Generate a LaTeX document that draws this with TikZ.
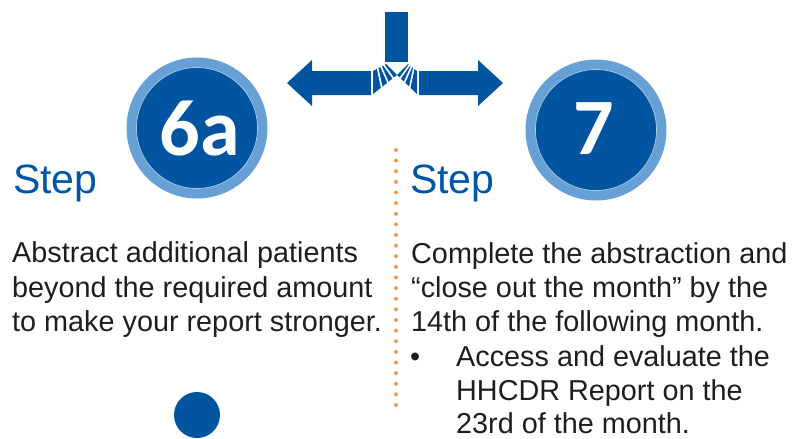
\documentclass[tikz,border=0pt]{standalone}
\usepackage{fontspec}
\setmainfont{Liberation Sans}
\newfontfamily\numfont{Carlito}
\usetikzlibrary{calc}
\definecolor{dblue}{RGB}{0,84,160}
\definecolor{lblue}{RGB}{102,160,213}
\definecolor{sblue}{RGB}{0,86,166}
\definecolor{dots}{RGB}{247,150,70}
\definecolor{body}{RGB}{30,30,30}
\tikzset{
  ring/.style={circle, fill=lblue, minimum size=141pt, inner sep=0pt},
  disc/.style={circle, fill=dblue, draw=lblue!55!white, line width=0.7pt, minimum size=121pt, inner sep=0pt},
  num/.style={text=white, inner sep=0pt, font=\numfont\bfseries\fontsize{80}{80}\selectfont},
  steplabel/.style={anchor=base west, inner sep=0pt, text=sblue, font=\fontsize{41}{41}\selectfont},
  bodytext/.style={anchor=base west, inner sep=0pt, text=body, font=\fontsize{28.8}{34}\selectfont},
  gap/.style={white, line width=1.6pt, shorten <=-2pt, shorten >=-2pt}
}
\begin{document}
\begin{tikzpicture}[x=1pt,y=-1pt]
\useasboundingbox (0,0) rectangle (807,439);

% splitting arrow
\fill[dblue] (385,12) rectangle (408,62);
\fill[dblue] (287,83) -- (312,60) -- (312,71) -- (371,71) -- (371,95) -- (312,95) -- (312,106) -- cycle;
\fill[dblue] (503,83) -- (478,60) -- (478,71) -- (419,71) -- (419,95) -- (478,95) -- (478,106) -- cycle;
\coordinate (lo0) at (373,71); \coordinate (lo1) at (386,64);
\coordinate (li0) at (373,94); \coordinate (apex) at (397,75);
\coordinate (ro0) at (417,71); \coordinate (ro1) at (408,64);
\coordinate (ri0) at (417,94);
\fill[dblue] (lo0) -- (lo1) -- (apex) -- (li0) -- cycle;
\fill[dblue] (ro0) -- (ro1) -- (apex) -- (ri0) -- cycle;
\foreach \t in {0.36,0.62,0.84} {
  \draw[gap] ($(lo0)!\t!(lo1)$) -- ($(li0)!\t!(apex)$);
  \draw[gap] ($(ro0)!\t!(ro1)$) -- ($(ri0)!\t!(apex)$);
}

% step circles
\node[ring] (r6a) at (197,128) {};
\node[disc] (c6a) at (197,128) {};
\node[num] (n6a) at (200,128) {6a};
\node[ring] (r7) at (596,130) {};
\node[disc] (c7) at (596,130) {};
\node[num] (n7) at (594,129) {7};
\node[circle, fill=dblue, minimum size=46pt, inner sep=0pt] (dot) at (197,415) {};

% dotted divider
\coordinate (dtop) at (396,150);
\coordinate (dbot) at (396,405);
\draw[dots, line width=4pt, line cap=round, dash pattern=on 0pt off 10.625pt] (dtop) -- (dbot);

% labels
\node[steplabel] (s6a) at (13,193) {Step};
\node[steplabel] (s7) at (410,193) {Step};

\node[bodytext] (l1) at (12,262) {Abstract additional patients};
\node[bodytext] (l2) at (12,297) {beyond the required amount};
\node[bodytext] (l3) at (12,331) {to make your report stronger.};

\node[bodytext] (r1) at (411,263) {Complete the abstraction and};
\node[bodytext] (r2) at (411,297) {“close out the month” by the};
\node[bodytext] (r3) at (411,331) {14th of the following month.};
\node[bodytext] (bul) at (410,366) {•};
\node[bodytext] (r4) at (456,366) {Access and evaluate the};
\node[bodytext] (r5) at (456,400) {HHCDR Report on the};
\node[bodytext] (r6) at (456,433) {23rd of the month.};
\end{tikzpicture}
\end{document}
